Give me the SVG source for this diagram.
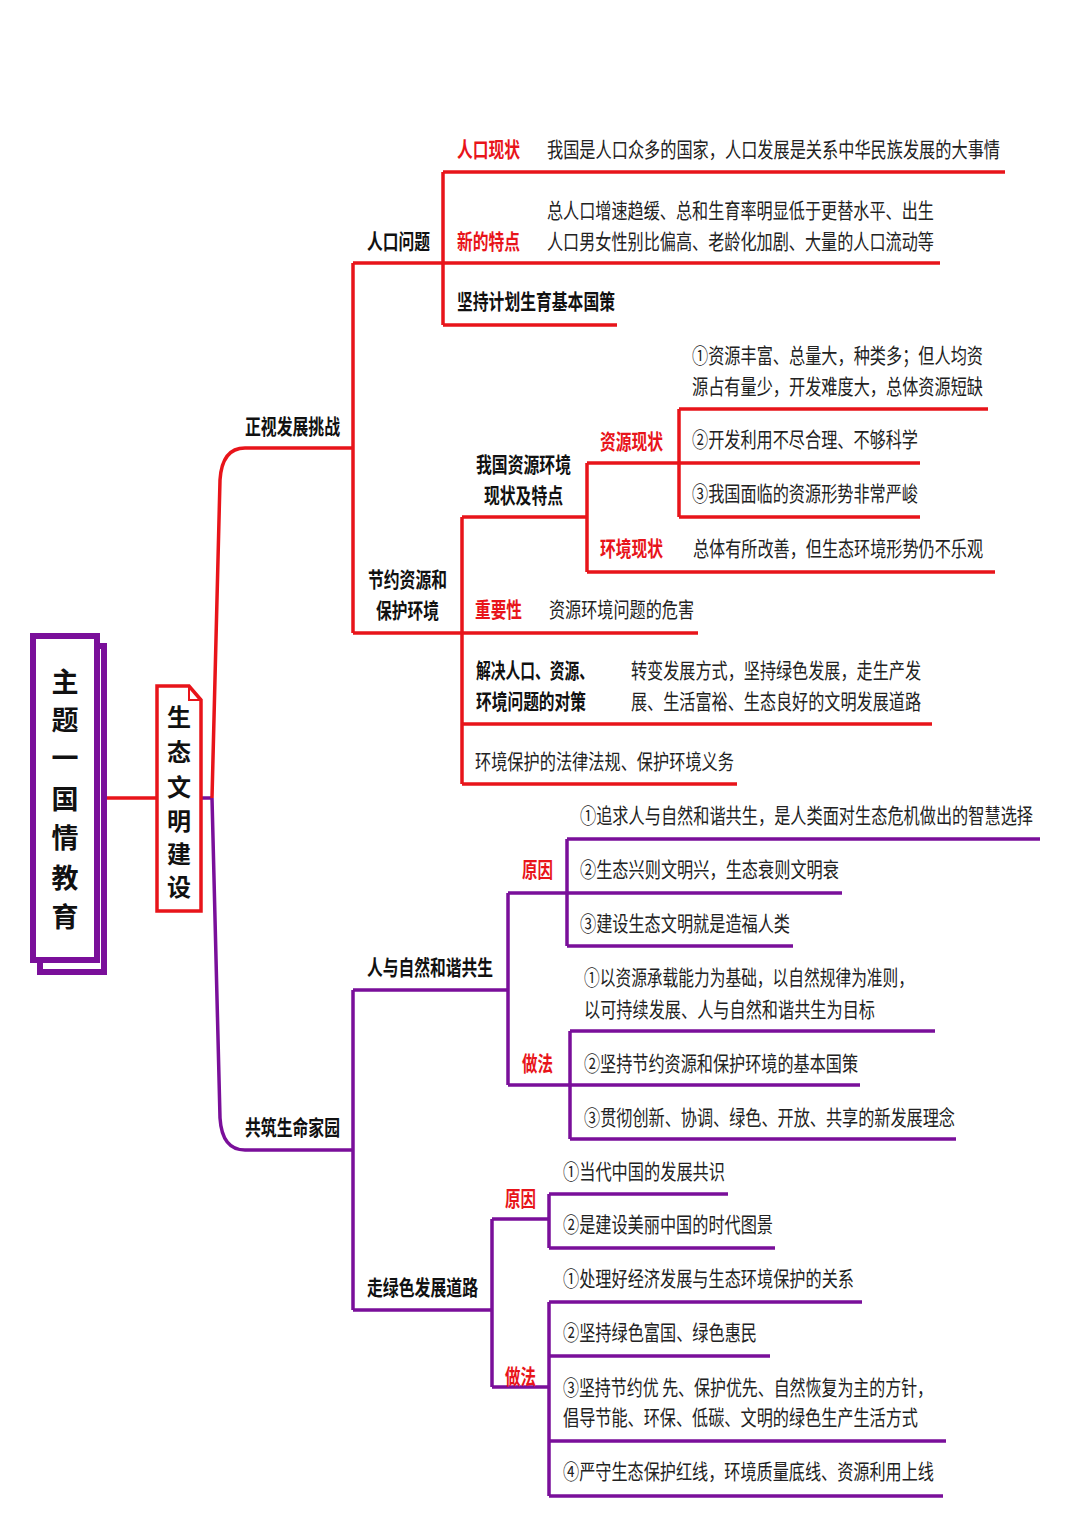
<svg xmlns="http://www.w3.org/2000/svg" width="1080" height="1527" viewBox="0 0 1080 1527">
<style>
text{font-family:"Noto Sans CJK SC","Liberation Sans",sans-serif;font-size:21px;fill:#222;dominant-baseline:central}
.b{font-weight:bold;fill:#111}
.r{font-weight:bold;fill:#e8141a}
.rl{stroke:#e8141a;stroke-width:3.5;fill:none}
.pl{stroke:#7a0f9a;stroke-width:3.5;fill:none}
.big{font-size:27px;font-weight:bold;fill:#111;text-anchor:middle}
</style>
<rect width="1080" height="1527" fill="#fff"/>
<g id="connectors">
<path class="rl" d="M104 798H157"/>
<path class="pl" d="M201 798H212"/>
<path class="rl" d="M212 798L220 480Q222 448 245 448H353"/>
<path class="pl" d="M212 798L220 1118Q222 1150 245 1150H353"/>
<path class="rl" d="M353 263V633M353 263H443M443 172V325M443 172H1005M443 263H940M443 325H617"/>
<path class="rl" d="M353 633H462M462 517V784M462 517H587M587 463V572M587 463H679M679 409V517M679 409H988M679 463H920M679 517H920M587 572H995M462 633H698M462 724H932M462 784H737"/>
<path class="pl" d="M353 990V1310M353 990H508M508 893V1085M508 893H567M567 839V946M567 839H1040M567 893H842M567 946H793M508 1085H570M570 1031V1139M570 1031H935M570 1085H860M570 1139H956"/>
<path class="pl" d="M353 1310H492M492 1219V1387M492 1219H549M549 1194V1248M549 1194H728M549 1248H775M492 1387H549M549 1302V1496M549 1302H862M549 1356H770M549 1441H946M549 1496H943"/>
</g>
<g id="main">
<rect x="40" y="646" width="64" height="326" fill="#fff" stroke="#7a0f9a" stroke-width="6"/>
<rect x="33" y="636" width="64" height="324" fill="#fff" stroke="#7a0f9a" stroke-width="6"/>
<text class="big" x="65" y="680">主</text><text class="big" x="65" y="718">题</text><text class="big" x="65" y="756">一</text><text class="big" x="65" y="797">国</text><text class="big" x="65" y="836">情</text><text class="big" x="65" y="876">教</text><text class="big" x="65" y="915">育</text>
</g>
<g id="topic">
<path d="M157 686H189L201 700V911H157Z" fill="#fff" stroke="#e8141a" stroke-width="3.5"/>
<path d="M189 686V700H201" fill="none" stroke="#e8141a" stroke-width="2"/>
<text class="big" style="font-size:24px" x="179" y="715">生</text><text class="big" style="font-size:24px" x="179" y="750">态</text><text class="big" style="font-size:24px" x="179" y="785">文</text><text class="big" style="font-size:24px" x="179" y="819">明</text><text class="big" style="font-size:24px" x="179" y="852">建</text><text class="big" style="font-size:24px" x="179" y="885">设</text>
</g>
<g id="n1"><text class="b" x="245" y="425" textLength="95" lengthAdjust="spacingAndGlyphs">正视发展挑战</text></g>
<g id="n2"><text class="b" x="367" y="240" textLength="63" lengthAdjust="spacingAndGlyphs">人口问题</text></g>
<g id="n3"><text class="r" x="457" y="148" textLength="63" lengthAdjust="spacingAndGlyphs">人口现状</text><text x="547" y="148" textLength="453" lengthAdjust="spacingAndGlyphs">我国是人口众多的国家，人口发展是关系中华民族发展的大事情</text></g>
<g id="n4"><text class="r" x="457" y="240" textLength="63" lengthAdjust="spacingAndGlyphs">新的特点</text><text x="547" y="209" textLength="387" lengthAdjust="spacingAndGlyphs">总人口增速趋缓、总和生育率明显低于更替水平、出生</text><text x="547" y="240" textLength="387" lengthAdjust="spacingAndGlyphs">人口男女性别比偏高、老龄化加剧、大量的人口流动等</text></g>
<g id="n5"><text class="b" x="457" y="300" textLength="158" lengthAdjust="spacingAndGlyphs">坚持计划生育基本国策</text></g>
<g id="n6"><text class="b" x="368" y="578" textLength="79" lengthAdjust="spacingAndGlyphs">节约资源和</text><text class="b" x="376" y="609" textLength="63" lengthAdjust="spacingAndGlyphs">保护环境</text></g>
<g id="n7"><text class="b" x="476" y="463" textLength="95" lengthAdjust="spacingAndGlyphs">我国资源环境</text><text class="b" x="484" y="494" textLength="79" lengthAdjust="spacingAndGlyphs">现状及特点</text></g>
<g id="n8"><text class="r" x="600" y="440" textLength="63" lengthAdjust="spacingAndGlyphs">资源现状</text></g>
<g id="n9"><text x="692" y="354" textLength="291" lengthAdjust="spacingAndGlyphs">①资源丰富、总量大，种类多；但人均资</text><text x="692" y="385" textLength="291" lengthAdjust="spacingAndGlyphs">源占有量少，开发难度大，总体资源短缺</text></g>
<g id="n10"><text x="692" y="438" textLength="226" lengthAdjust="spacingAndGlyphs">②开发利用不尽合理、不够科学</text></g>
<g id="n11"><text x="692" y="492" textLength="226" lengthAdjust="spacingAndGlyphs">③我国面临的资源形势非常严峻</text></g>
<g id="n12"><text class="r" x="600" y="547" textLength="63" lengthAdjust="spacingAndGlyphs">环境现状</text><text x="693" y="547" textLength="290" lengthAdjust="spacingAndGlyphs">总体有所改善，但生态环境形势仍不乐观</text></g>
<g id="n13"><text class="r" x="475" y="608" textLength="47" lengthAdjust="spacingAndGlyphs">重要性</text><text x="549" y="608" textLength="145" lengthAdjust="spacingAndGlyphs">资源环境问题的危害</text></g>
<g id="n14"><text class="b" x="476" y="669" textLength="118" lengthAdjust="spacingAndGlyphs">解决人口、资源、</text><text class="b" x="476" y="700" textLength="110" lengthAdjust="spacingAndGlyphs">环境问题的对策</text><text x="631" y="669" textLength="290" lengthAdjust="spacingAndGlyphs">转变发展方式，坚持绿色发展，走生产发</text><text x="631" y="700" textLength="290" lengthAdjust="spacingAndGlyphs">展、生活富裕、生态良好的文明发展道路</text></g>
<g id="n15"><text x="475" y="760" textLength="259" lengthAdjust="spacingAndGlyphs">环境保护的法律法规、保护环境义务</text></g>
<g id="n16"><text class="b" x="245" y="1126" textLength="95" lengthAdjust="spacingAndGlyphs">共筑生命家园</text></g>
<g id="n17"><text class="b" x="367" y="966" textLength="126" lengthAdjust="spacingAndGlyphs">人与自然和谐共生</text></g>
<g id="n18"><text class="r" x="522" y="868" textLength="31" lengthAdjust="spacingAndGlyphs">原因</text></g>
<g id="n19"><text x="580" y="814" textLength="453" lengthAdjust="spacingAndGlyphs">①追求人与自然和谐共生，是人类面对生态危机做出的智慧选择</text></g>
<g id="n20"><text x="580" y="868" textLength="259" lengthAdjust="spacingAndGlyphs">②生态兴则文明兴，生态衰则文明衰</text></g>
<g id="n21"><text x="580" y="922" textLength="210" lengthAdjust="spacingAndGlyphs">③建设生态文明就是造福人类</text></g>
<g id="n22"><text class="r" x="522" y="1062" textLength="31" lengthAdjust="spacingAndGlyphs">做法</text></g>
<g id="n23"><text x="584" y="976" textLength="330" lengthAdjust="spacingAndGlyphs">①以资源承载能力为基础，以自然规律为准则，</text><text x="584" y="1008" textLength="291" lengthAdjust="spacingAndGlyphs">以可持续发展、人与自然和谐共生为目标</text></g>
<g id="n24"><text x="584" y="1062" textLength="274" lengthAdjust="spacingAndGlyphs">②坚持节约资源和保护环境的基本国策</text></g>
<g id="n25"><text x="584" y="1116" textLength="371" lengthAdjust="spacingAndGlyphs">③贯彻创新、协调、绿色、开放、共享的新发展理念</text></g>
<g id="n26"><text class="b" x="367" y="1286" textLength="111" lengthAdjust="spacingAndGlyphs">走绿色发展道路</text></g>
<g id="n27"><text class="r" x="505" y="1197" textLength="31" lengthAdjust="spacingAndGlyphs">原因</text></g>
<g id="n28"><text x="563" y="1170" textLength="162" lengthAdjust="spacingAndGlyphs">①当代中国的发展共识</text></g>
<g id="n29"><text x="563" y="1223" textLength="210" lengthAdjust="spacingAndGlyphs">②是建设美丽中国的时代图景</text></g>
<g id="n30"><text class="r" x="505" y="1375" textLength="31" lengthAdjust="spacingAndGlyphs">做法</text></g>
<g id="n31"><text x="563" y="1277" textLength="291" lengthAdjust="spacingAndGlyphs">①处理好经济发展与生态环境保护的关系</text></g>
<g id="n32"><text x="563" y="1331" textLength="194" lengthAdjust="spacingAndGlyphs">②坚持绿色富国、绿色惠民</text></g>
<g id="n33"><text x="563" y="1386" textLength="370" lengthAdjust="spacingAndGlyphs">③坚持节约优 先、保护优先、自然恢复为主的方针，</text><text x="563" y="1416" textLength="355" lengthAdjust="spacingAndGlyphs">倡导节能、环保、低碳、文明的绿色生产生活方式</text></g>
<g id="n34"><text x="563" y="1470" textLength="371" lengthAdjust="spacingAndGlyphs">④严守生态保护红线，环境质量底线、资源利用上线</text></g>
</svg>
